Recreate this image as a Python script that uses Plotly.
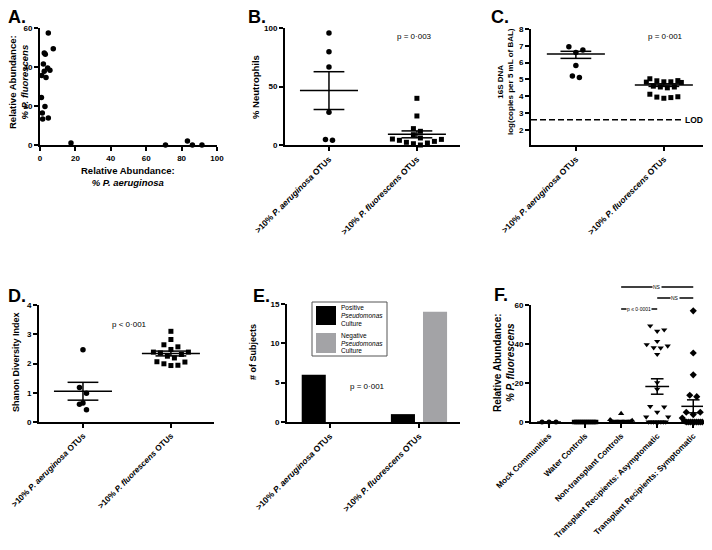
import math
import plotly.graph_objects as go

# The page body has an 8px margin; the figure is sized so that it fits the 712x550 window
# without scrollbars and all coordinates below are given in window pixels.
OFF = 8
W, H = 712 - 2 * OFF, 550 - 2 * OFF
FONT = "Liberation Sans, Arial, sans-serif"

# ---------------- data ----------------
# Panel A: relative abundance (%)
a_p_aeruginosa = [4.7, 7.5, 2.4, 3.0, 1.9, 4.3, 5.6, 2.4, 1.0, 3.4, 0.8, 2.8, 1.3, 1.5, 4.7, 17.5, 70.9, 83.3, 86.1, 91.5]
a_p_fluorescens = [57.4, 49.4, 47.2, 46.5, 41.5, 39.5, 38.3, 37.8, 35.6, 34.6, 24.3, 19.7, 16.4, 13.3, 13.8, 1.0, 0.0, 2.0, 0.0, 0.0]

otu_groups = [">10% <i>P. aeruginosa</i> OTUs", ">10% <i>P. fluorescens</i> OTUs"]

# Panel B: % neutrophils
b_neutrophils_aer = [95.7, 79.8, 66.7, 27.9, 4.0, 4.8]
b_neutrophils_flu = [39.9, 24.8, 11.7, 14.0, 8.8, 6.0, 4.8, 3.1, 1.7, 0.0, 1.1, 2.3, 4.0, 5.1]

# Panel C: log16S DNA copies
c_log16s_aer = [6.95, 6.75, 6.6, 5.83, 5.12, 5.2]
c_log16s_flu = [4.93, 4.86, 4.82, 4.84, 4.86, 4.92, 5.04, 4.6, 4.55, 4.5, 4.55, 3.95, 3.88, 3.92, 3.97, 4.12]
c_lod = 2.6

# Panel D: Shannon diversity
d_shannon_aer = [2.47, 1.18, 0.98, 0.65, 0.61, 0.42]
d_shannon_flu = [3.1, 2.82, 2.64, 2.57, 2.48, 2.39, 2.36, 2.25, 2.19, 2.31, 2.39, 2.06, 1.99, 1.93, 1.94, 2.05]

# Panel E: number of subjects
e_series = ["Positive <i>Pseudomonas</i> Culture", "Negative <i>Pseudomonas</i> Culture"]
e_positive_culture = [6, 1]
e_negative_culture = [0, 14]

# Panel F: relative abundance % P. fluorescens
f_groups = ["Mock Communities", "Water Controls", "Non-transplant Controls",
            "Transplant Recipients: Asymptomatic", "Transplant Recipients: Symptomatic"]
f_mock = [0.0, 0.0, 0.0]
f_water = [0.0, 0.0, 0.0, 0.0, 0.0, 0.0, 0.0, 0.0, 0.0, 0.0, 0.0, 0.0]
f_nontransplant = [4.3, 1.2, 0.8, 0.5, 0.3, 0.0, 0.0, 0.0, 0.0, 0.0, 0.0, 0.0, 0.0, 0.0, 0.0, 0.0, 0.0, 0.0, 0.0, 0.0]
f_asymptomatic = [49.3, 47.3, 46.6, 41.4, 39.7, 39.0, 38.1, 38.0, 34.7, 20.2, 16.8, 8.0, 7.7, 5.0, 2.6, 2.6,
                  0.0, 0.0, 0.0, 0.0, 0.0, 0.0, 0.0, 0.0]
f_symptomatic = [57.0, 35.4, 24.2, 13.7, 13.0, 5.0, 5.0, 3.8, 2.0, 1.0, 0.5,
                 0.0, 0.0, 0.0, 0.0, 0.0, 0.0, 0.0, 0.0, 0.0]

f_tests = [(2, 4, "NS"), (3, 4, "NS"), (2, 3, "p \u2264 0\u00b70001")]

# ---------------- geometry (window pixels) ----------------
geo = {
    1: dict(xpx=(40, 217), ypx=(145, 28), xr=(0, 100), yr=(0, 60)),
    2: dict(xpx=(285, 460), ypx=(145, 28), xr=(-0.5, 1.49), yr=(0, 100)),
    3: dict(xpx=(531, 703), ypx=(145, 29), xr=(-0.51, 1.445), yr=(1.1, 8)),
    4: dict(xpx=(39, 214), ypx=(422, 305), xr=(-0.5, 1.49), yr=(0, 4)),
    5: dict(xpx=(287, 460), ypx=(422, 304), xr=(-0.48, 1.46), yr=(0, 15)),
    6: dict(xpx=(531, 703), ypx=(422, 305), xr=(-0.5, 4.27), yr=(0, 60)),
}
for g in geo.values():
    g["ppx"] = (g["xpx"][1] - g["xpx"][0]) / (g["xr"][1] - g["xr"][0])
    g["ppy"] = (g["ypx"][0] - g["ypx"][1]) / (g["yr"][1] - g["yr"][0])


def px(x):
    return (x - OFF) / W


def py(y):
    return 1 - (y - OFF) / H


def spread(vals, center, g, row_px=6.0, step_px=7.0, maxhalf_px=None):
    """Column-scatter layout: bin points into rows, spread each row center-out."""
    ppx, ppy = g["ppx"], g["ppy"]
    idx = sorted(range(len(vals)), key=lambda i: vals[i])
    rows, cur, start = [], [], None
    for i in idx:
        yv = vals[i] * ppy
        if cur and yv - start > row_px:
            rows.append(cur)
            cur = []
        if not cur:
            start = yv
        cur.append(i)
    if cur:
        rows.append(cur)
    xs = [center] * len(vals)
    for r in rows:
        n = len(r)
        st = step_px
        if maxhalf_px and n > 1:
            st = min(st, 2 * maxhalf_px / (n - 1))
        slots = [j - (n - 1) / 2 for j in range(n)]
        slots.sort(key=lambda s: (abs(s), -s))
        for s, i in zip(slots, r):
            xs[i] = center + s * st / ppx
    return xs


def mean_sem(v):
    n = len(v)
    m = sum(v) / n
    sd = math.sqrt(sum((x - m) ** 2 for x in v) / (n - 1))
    return m, sd / math.sqrt(n)


def summary_trace(centers, means, lows, highs, k, hw=0.33, cw=0.175):
    xs, ys = [], []
    for c, m, lo, hi in zip(centers, means, lows, highs):
        xs += [c - hw, c + hw, None, c - cw, c + cw, None, c - cw, c + cw, None, c, c, None]
        ys += [m, m, None, hi, hi, None, lo, lo, None, lo, hi, None]
    s = "" if k == 1 else str(k)
    return go.Scatter(x=xs, y=ys, mode="lines", line=dict(color="black", width=1.5),
                      xaxis="x" + s, yaxis="y" + s, hoverinfo="skip", showlegend=False, cliponaxis=False)


def pts(x, y, k, symbol="circle", size=5.5):
    s = "" if k == 1 else str(k)
    return go.Scatter(x=x, y=y, mode="markers", xaxis="x" + s, yaxis="y" + s,
                      marker=dict(color="black", symbol=symbol, size=size, line=dict(width=0)),
                      cliponaxis=False, showlegend=False, hoverinfo="skip")


fig = go.Figure()

# A
fig.add_trace(pts(a_p_aeruginosa, a_p_fluorescens, 1))

# B, D (mean +/- SEM)
for k, (g1, g2) in {2: (b_neutrophils_aer, b_neutrophils_flu), 4: (d_shannon_aer, d_shannon_flu)}.items():
    g = geo[k]
    fig.add_trace(pts(spread(g1, 0, g), g1, k, "circle"))
    fig.add_trace(pts(spread(g2, 1, g), g2, k, "square", 5))
    ms = [mean_sem(g1), mean_sem(g2)]
    fig.add_trace(summary_trace([0, 1], [m for m, s in ms], [m - s for m, s in ms], [m + s for m, s in ms], k))

# C (mean +/- SEM computed on copies, shown on log scale)
g = geo[3]
fig.add_trace(pts(spread(c_log16s_aer, 0, g), c_log16s_aer, 3, "circle"))
fig.add_trace(pts(spread(c_log16s_flu, 1, g), c_log16s_flu, 3, "square", 5))
means, lows, highs = [], [], []
for grp in (c_log16s_aer, c_log16s_flu):
    m, s = mean_sem([10 ** v for v in grp])
    means.append(math.log10(m))
    lows.append(math.log10(m - s))
    highs.append(math.log10(m + s))
fig.add_trace(summary_trace([0, 1], means, lows, highs, 3))

# E bars
fig.add_trace(go.Bar(x=[0, 1], y=e_positive_culture, name=e_series[0], marker=dict(color="black", line=dict(width=0)),
                     xaxis="x5", yaxis="y5", offsetgroup="pos", showlegend=False, hoverinfo="skip"))
fig.add_trace(go.Bar(x=[0, 1], y=e_negative_culture, name=e_series[1], marker=dict(color="#a3a3a6", line=dict(width=0)),
                     xaxis="x5", yaxis="y5", offsetgroup="neg", showlegend=False, hoverinfo="skip"))

# F
g = geo[6]
f_data = [f_mock, f_water, f_nontransplant, f_asymptomatic, f_symptomatic]
f_symbols = ["circle", "square", "triangle-up", "triangle-down", "diamond"]
f_sizes = [5, 4.5, 5.5, 5.5, 5.5]
fm, fl, fh = [], [], []
for i, (vals, sym, sz) in enumerate(zip(f_data, f_symbols, f_sizes)):
    fig.add_trace(pts(spread(vals, i, g, row_px=6, step_px=7, maxhalf_px=11), vals, 6, sym, sz))
    m, s = mean_sem(vals)
    fm.append(m); fl.append(m - s); fh.append(m + s)
fig.add_trace(summary_trace(list(range(5)), fm, fl, fh, 6))


# ---------------- axes ----------------
def axis_common():
    return dict(showline=True, linecolor="black", linewidth=2, ticks="outside", ticklen=4, tickwidth=2,
                tickcolor="black", showgrid=False, zeroline=False, fixedrange=True, automargin=False,
                ticklabeloverflow="allow",
                tickfont=dict(family=FONT, size=8, color="black", weight="bold"))


layout = {}
for k, gg in geo.items():
    s = "" if k == 1 else str(k)
    layout["xaxis" + s] = dict(axis_common(), domain=[px(gg["xpx"][0]), px(gg["xpx"][1])],
                               range=list(gg["xr"]), anchor="y" + s)
    layout["yaxis" + s] = dict(axis_common(), domain=[py(gg["ypx"][0]), py(gg["ypx"][1])],
                               range=list(gg["yr"]), anchor="x" + s)

layout["xaxis"].update(tickvals=[0, 20, 40, 60, 80, 100])
layout["yaxis"].update(tickvals=[0, 20, 40, 60])
cat_font = dict(family=FONT, size=8.5, color="black", weight="bold")
for s in ["2", "3", "4", "5"]:
    layout["xaxis" + s].update(tickvals=[0, 1], ticktext=otu_groups, tickangle=-45, tickfont=cat_font)
layout["xaxis4"].update(tickfont=dict(cat_font, size=8.2))
layout["xaxis6"].update(tickvals=list(range(5)), ticktext=f_groups, tickangle=-45, tickfont=dict(cat_font, size=8.1))
layout["yaxis2"].update(tickvals=[0, 50, 100])
layout["yaxis3"].update(tickvals=[2, 3, 4, 5, 6, 7, 8])
layout["yaxis4"].update(tickvals=[0, 1, 2, 3, 4])
layout["yaxis5"].update(tickvals=[0, 5, 10, 15])
layout["yaxis6"].update(tickvals=[0, 20, 40, 60])

# ---------------- annotations ----------------
ann = []
shapes = []


def text_px(x, y, t, size, bold=True, angle=0, xanchor="center", yanchor="middle", color="black", bg=None):
    d = dict(x=px(x), y=py(y), xref="paper", yref="paper", text=t, showarrow=False, textangle=angle,
             xanchor=xanchor, yanchor=yanchor,
             font=dict(family=FONT, size=size, color=color, weight="bold" if bold else "normal"))
    if bg:
        d["bgcolor"] = bg
    ann.append(d)


# panel letters
for lab, (x, y) in {"A.": (6, 17), "B.": (246, 17), "C.": (489, 17), "D.": (6, 296), "E.": (251, 296), "F.": (492, 295)}.items():
    text_px(x, y, lab, 18, xanchor="left")

# axis titles
text_px(18, 82, "Relative Abundance:<br><i>% P. fluorescens</i>", 9.5, angle=-90)
text_px(128, 176, "Relative Abundance:<br><i>% P. aeruginosa</i>", 9.5)
text_px(255, 87, "% Neutrophils", 9.5, angle=-90)
text_px(505, 82, "16S DNA<br>log(copies per 5 mL of BAL)", 8, angle=-90)
text_px(16, 362, "Shanon Diversity Index", 9, angle=-90)
text_px(253, 352, "# of Subjects", 9, angle=-90)
text_px(504, 363, "Relative Abundance:<br><i>% P. fluorescens</i>", 10, angle=-90)

# p-values (data coordinates)
pfont = dict(family=FONT, size=8, color="black")
ann.append(dict(x=0.97, y=93, xref="x2", yref="y2", text="p = 0\u00b7003", showarrow=False, font=pfont))
ann.append(dict(x=1.02, y=7.58, xref="x3", yref="y3", text="p = 0\u00b7001", showarrow=False, font=pfont))
ann.append(dict(x=0.53, y=3.35, xref="x4", yref="y4", text="p < 0\u00b7001", showarrow=False, font=pfont))
ann.append(dict(x=0.42, y=4.45, xref="x5", yref="y5", text="p = 0\u00b7001", showarrow=False, font=pfont))

# LOD line in C
shapes.append(dict(type="line", xref="paper", yref="y3", x0=px(531), x1=px(684), y0=c_lod, y1=c_lod,
                   line=dict(color="black", width=1.5, dash="6px,3px")))
ann.append(dict(x=px(704), y=c_lod, xref="paper", yref="y3", text="LOD", showarrow=False, xanchor="right",
                borderpad=0, font=dict(family=FONT, size=8.5, color="black", weight="bold")))

# Legend in E (manual)
shapes.append(dict(type="rect", xref="paper", yref="paper", x0=px(312), x1=px(387), y0=py(356), y1=py(302),
                   line=dict(color="#555555", width=1), fillcolor="white"))
shapes.append(dict(type="rect", xref="paper", yref="paper", x0=px(316), x1=px(336), y0=py(325), y1=py(306),
                   line=dict(width=0), fillcolor="black"))
shapes.append(dict(type="rect", xref="paper", yref="paper", x0=px(316), x1=px(336), y0=py(353), y1=py(333),
                   line=dict(width=0), fillcolor="#a3a3a6"))
for (t, yy) in [("Positive", 307.5), ("<i>Pseudomonas</i>", 315.5), ("Culture", 323.5),
                ("Negative", 335.5), ("<i>Pseudomonas</i>", 343), ("Culture", 350.5)]:
    text_px(339, yy, t, 6.5, bold=False, xanchor="left")

# significance brackets in F
for (a, b, t), ypix in zip(f_tests, [287, 298, 309]):
    shapes.append(dict(type="line", xref="x6", yref="paper", x0=a, x1=b, y0=py(ypix), y1=py(ypix),
                       line=dict(color="black", width=1.5)))
    ann.append(dict(x=(a + b) / 2, y=py(ypix), xref="x6", yref="paper", text=t, showarrow=False,
                    bgcolor="white", borderpad=0,
                    font=dict(family=FONT, size=5, color="black")))

fig.update_layout(
    width=W, height=H, margin=dict(l=0, r=0, t=0, b=0, autoexpand=False),
    paper_bgcolor="white", plot_bgcolor="white",
    barmode="group", bargap=0.28, bargroupgap=0.25,
    showlegend=False, annotations=ann, shapes=shapes,
    font=dict(family=FONT, color="black"),
    **layout,
)

fig.write_html("out.html")
